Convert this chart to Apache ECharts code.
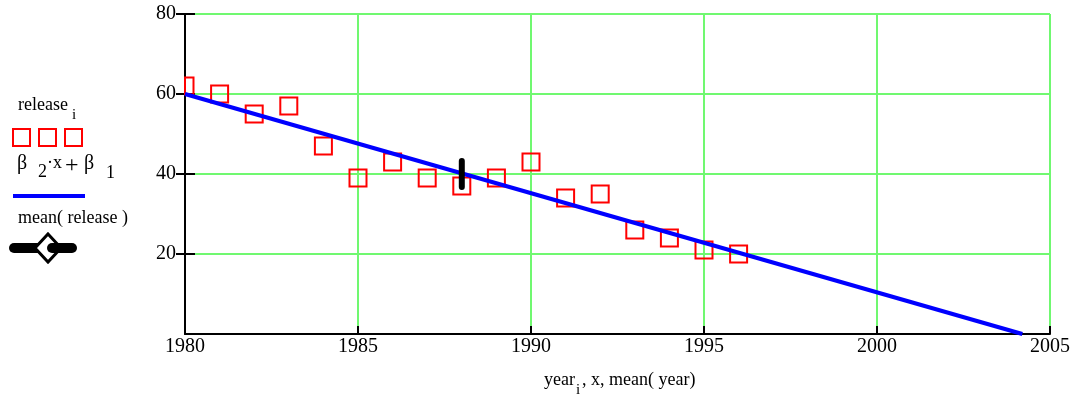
<!DOCTYPE html>
<html>
<head>
<meta charset="utf-8">
<script src="https://cdn.jsdelivr.net/npm/echarts@6/dist/echarts.min.js"></script>
<style>
  html, body { margin: 0; padding: 0; background: #fff; }
  #chart { width: 1080px; height: 395px; }
</style>
</head>
<body>
<div id="chart"></div>
<script>
const years   = [1980, 1981, 1982, 1983, 1984, 1985, 1986, 1987, 1988, 1989, 1990, 1991, 1992, 1993, 1994, 1995, 1996]
const release = [62, 60, 55, 57, 47, 39, 43, 39, 37, 39, 43, 34, 35, 26, 24, 21, 20]
// fitted line end points, beta2*x + beta1
const fitX = [1980, 2004.2]
const fitY = [60, 0]
// mean(year), mean(release)
const meanPt = [1988, 40]

const FONT = '"Liberation Serif", "DejaVu Serif", serif'
const GREEN = '#70f870'

const chart = echarts.init(document.getElementById('chart'))

const txt = (x, y, s, size, extra) => ({
  type: 'text', x, y, z: 10,
  style: Object.assign({ text: s, fill: '#000', font: `${size}px ${FONT}`, verticalAlign: 'middle' }, extra || {})
})
const box = x => ({ type: 'rect', shape: { x, y: 129, width: 17, height: 17 }, style: { fill: 'none', stroke: '#ff0000', lineWidth: 2 } })

// hollow squares, clipped to the plot area like the original
function renderSquare(params, api) {
  const c = api.coord([api.value(0), api.value(1)])
  const s = 17
  const cs = params.coordSys
  const shape = echarts.graphic.clipRectByRect(
    { x: c[0] - s / 2, y: c[1] - s / 2, width: s, height: s },
    { x: cs.x, y: cs.y, width: cs.width, height: cs.height }
  )
  if (!shape) return
  return { type: 'rect', shape, style: { fill: 'none', stroke: '#ff0000', lineWidth: 2 } }
}

chart.setOption({
  animation: false,
  grid: { left: 185, top: 14, right: 30, bottom: 61 },
  xAxis: {
    type: 'value', min: 1980, max: 2005, interval: 5,
    axisLine: { lineStyle: { color: '#000', width: 2 } },
    axisTick: { inside: true, length: 8, lineStyle: { color: '#000', width: 2 } },
    axisLabel: { color: '#000', fontFamily: FONT, fontSize: 20, margin: 3, formatter: v => String(v) },
    splitLine: { show: true, lineStyle: { color: GREEN, width: 2 } }
  },
  yAxis: [{
    type: 'value', min: 0, max: 80, interval: 20,
    axisLine: { show: true, lineStyle: { color: '#000', width: 2 } },
    axisTick: { show: true, length: 9, lineStyle: { color: '#000', width: 2 } },
    axisLabel: { color: '#000', fontFamily: FONT, fontSize: 20, margin: 9, showMinLabel: false },
    splitLine: { show: true, lineStyle: { color: GREEN, width: 2 } }
  }, {
    type: 'value', min: 0, max: 80, interval: 20, position: 'left',
    axisLine: { show: false },
    axisTick: { show: true, inside: true, length: 10, lineStyle: { color: '#000', width: 2 } },
    axisLabel: { show: false },
    splitLine: { show: false }
  }],
  series: [{
    type: 'custom', name: 'release',
    data: years.map((y, i) => [y, release[i]]),
    renderItem: renderSquare,
    z: 2
  }, {
    type: 'line', name: 'fit',
    data: fitX.map((x, i) => [x, fitY[i]]),
    showSymbol: false, symbol: 'none',
    lineStyle: { color: '#0000ff', width: 4 },
    z: 3
  }, {
    type: 'scatter', name: 'mean',
    data: [meanPt],
    symbol: 'path://M0,3 A3,3 0 0 1 6,3 L6,29 A3,3 0 0 1 0,29 Z',
    symbolSize: [6, 32],
    itemStyle: { color: '#000', opacity: 1 },
    z: 4
  }],
  graphic: [
    // legend
    txt(18, 105, 'release', 18),
    txt(72, 115, 'i', 15),
    box(13), box(39), box(65),
    txt(17, 164, 'β', 20),
    txt(38, 172, '2', 18),
    txt(47, 163, '·x', 18),
    txt(65, 166, '+', 24),
    txt(84, 164, 'β', 20),
    txt(106, 173, '1', 18),
    { type: 'line', shape: { x1: 13, y1: 196, x2: 85, y2: 196 }, style: { stroke: '#0000ff', lineWidth: 4 } },
    txt(18, 218, 'mean( release )', 18),
    { type: 'line', shape: { x1: 14, y1: 248, x2: 38, y2: 248 }, style: { stroke: '#000', lineWidth: 10, lineCap: 'round' } },
    { type: 'polygon', shape: { points: [[48, 234], [61, 248], [48, 262], [35, 248]] }, style: { fill: '#fff', stroke: '#000', lineWidth: 3 } },
    { type: 'line', shape: { x1: 52, y1: 248, x2: 72, y2: 248 }, style: { stroke: '#000', lineWidth: 10, lineCap: 'round' } },
    // x axis title
    txt(544, 380, 'year', 18),
    txt(576, 390, 'i', 15),
    txt(582, 380, ', x, mean( year)', 18)
  ]
})

window.addEventListener('resize', () => chart.resize())
</script>
</body>
</html>
